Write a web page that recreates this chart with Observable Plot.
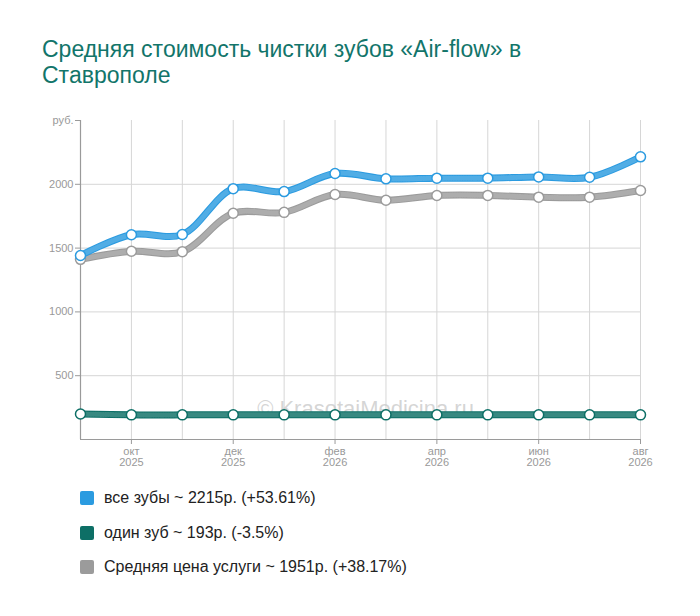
<!DOCTYPE html>
<html>
<head>
<meta charset="utf-8">
<script src="https://cdn.jsdelivr.net/npm/d3@7"></script>
<script src="https://cdn.jsdelivr.net/npm/@observablehq/plot@0.6"></script>
<style>
  html, body { margin: 0; padding: 0; background: #fff; }
  body { width: 700px; height: 616px; position: relative; font-family: "Liberation Sans", Arial, sans-serif; }
  #title { position: absolute; left: 42px; top: 36px; font-size: 23px; line-height: 26px; color: #12756a; }
  #chart { position: absolute; left: 0; top: 110px; }
  #legend { position: absolute; left: 80px; top: 481px; font-size: 16px; color: #222; }
  .item { display: flex; align-items: center; height: 34.5px; }
  .sw { width: 14px; height: 14px; border-radius: 2px; margin-right: 10px; }
</style>
</head>
<body>
<div id="title">Средняя стоимость чистки зубов «Air-flow» в<br>Ставрополе</div>
<div id="chart"></div>
<div id="legend"></div>
<script>
const months = ["2025-09","2025-10","2025-11","2025-12","2026-01","2026-02","2026-03","2026-04","2026-05","2026-06","2026-07","2026-08"];
const monthNames = ["сен","окт","ноя","дек","янв","фев","мар","апр","май","июн","июл","авг"];
const years = ["2025","2025","2025","2025","2026","2026","2026","2026","2026","2026","2026","2026"];
const labeledMonths = ["2025-10","2025-12","2026-02","2026-04","2026-06","2026-08"];

const allTeeth = [1442, 1605, 1607, 1966, 1943, 2085, 2043, 2048, 2048, 2058, 2055, 2215];
const oneTooth = [200, 193, 193, 193, 193, 193, 193, 193, 193, 193, 193, 193];
const avgPrice = [1412, 1475, 1472, 1773, 1780, 1920, 1875, 1912, 1913, 1899, 1899, 1951];

const seriesNames = ["все зубы", "один зуб", "Средняя цена услуги"];
const seriesColors = ["#2b9be0", "#0d6f66", "#9b9b9b"];
const legendLabels = ["все зубы ~ 2215р. (+53.61%)", "один зуб ~ 193р. (-3.5%)", "Средняя цена услуги ~ 1951р. (+38.17%)"];
const yTicks = [500, 1000, 1500, 2000, 2500];
const gridY = [500, 1000, 1500, 2000];

const seriesValues = [allTeeth, oneTooth, avgPrice];
const rows = [];
seriesValues.forEach((vals, s) => vals.forEach((v, i) => rows.push({series: seriesNames[s], month: months[i], value: v})));

const drawOrder = [seriesNames[1], seriesNames[2], seriesNames[0]];
const lineMarks = [];
for (const name of drawOrder) {
  const d = rows.filter(r => r.series === name);
  const c = seriesColors[seriesNames.indexOf(name)];
  lineMarks.push(Plot.line(d, {x: "month", y: "value", stroke: c, strokeWidth: 7, curve: "catmull-rom"}));
  lineMarks.push(Plot.line(d, {x: "month", y: "value", stroke: "#fff", strokeOpacity: 0.18, strokeWidth: 5, strokeDasharray: "1,1.5", curve: "catmull-rom"}));
}
const dotMarks = drawOrder.map(name => Plot.dot(rows.filter(r => r.series === name), {
  x: "month", y: "value", r: 5, fill: "#fff", stroke: seriesColors[seriesNames.indexOf(name)], strokeWidth: 1.5
}));

const chart = Plot.plot({
  width: 700,
  height: 360,
  marginLeft: 80,
  marginRight: 60,
  marginTop: 10,
  marginBottom: 31,
  style: {fontFamily: "'Liberation Sans', Arial, sans-serif", fontSize: "11px", color: "#8a8a8a", background: "transparent"},
  x: {type: "point", domain: months, padding: 0, round: false, label: null},
  y: {domain: [0, 2500], label: null},
  marks: [
    Plot.ruleX(months, {stroke: "#d6d6d6", strokeWidth: 1}),
    Plot.ruleY(gridY, {stroke: "#d6d6d6", strokeWidth: 1}),
    Plot.text(["© KrasotaiMedicina.ru"], {frameAnchor: "bottom", dy: -24, dx: 5, fontSize: 22, fill: "#c8c8c8", fillOpacity: 0.75}),
    Plot.ruleY([0], {stroke: "#9a9a9a", strokeWidth: 1.2}),
    Plot.ruleX([months[0]], {stroke: "#9a9a9a", strokeWidth: 1.2}),
    Plot.axisY({ticks: yTicks, tickFormat: d => d === 2500 ? "руб." : String(d), tickSize: 5, tickPadding: 2, stroke: "#9a9a9a", fill: "#999", label: null}),
    Plot.axisX({ticks: labeledMonths, tickFormat: m => { const i = months.indexOf(m); return monthNames[i] + "\n" + years[i]; }, tickSize: 5, tickPadding: 3, stroke: "#9a9a9a", fill: "#999", label: null}),
    ...lineMarks,
    ...dotMarks
  ]
});
document.getElementById("chart").appendChild(chart);

const legend = document.getElementById("legend");
legendLabels.forEach((lab, i) => {
  const item = document.createElement("div");
  item.className = "item";
  const sw = document.createElement("div");
  sw.className = "sw";
  sw.style.background = seriesColors[i];
  const t = document.createElement("span");
  t.textContent = lab;
  item.appendChild(sw);
  item.appendChild(t);
  legend.appendChild(item);
});
</script>
</body>
</html>
